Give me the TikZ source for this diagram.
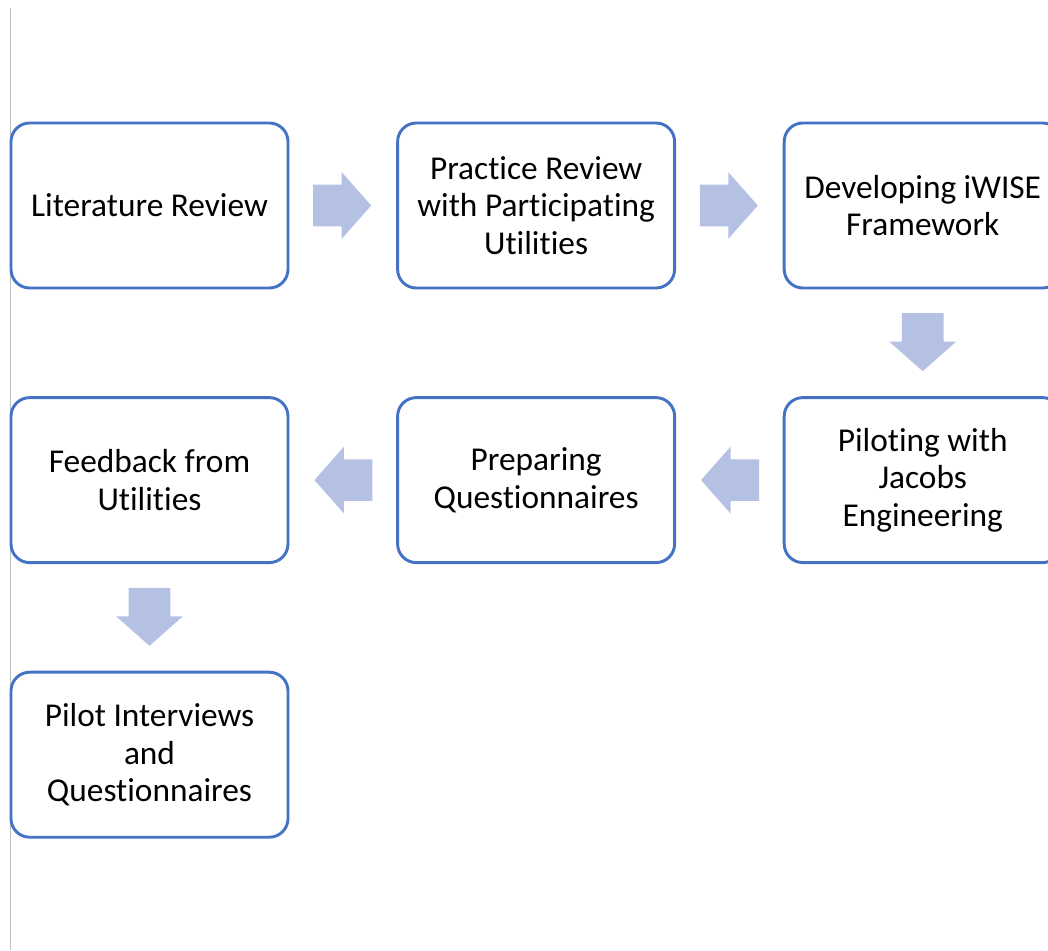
\documentclass[tikz,border=0pt]{standalone}
\usepackage{fontspec}
\setmainfont[Ligatures=NoCommon]{Carlito}
\usetikzlibrary{positioning,shapes.arrows}
\definecolor{boxblue}{RGB}{68,114,196}
\definecolor{arrowblue}{RGB}{180,193,227}

\begin{document}
\begin{tikzpicture}[x=0.75pt, y=-0.75pt, node distance={80pt},
  main/.style = {draw=boxblue, line width=2.2pt, rounded corners=14pt, fill=white,
    minimum width=207.75pt, minimum height=123.75pt, align=center,
    font=\fontsize{25}{28}\selectfont},
  flow/.style = {single arrow, fill=arrowblue, draw=none, inner xsep=0pt,
    inner ysep=15.4pt, minimum height=43.5pt, single arrow head extend=9.4pt,
    single arrow tip angle=97, sloped, allow upside down, pos=0.22, anchor=tail}]
\useasboundingbox (0,0) rectangle (1048,950);
\clip (0,0) rectangle (1048,950);
\draw[black!25, line width=1pt] (10.5,8) -- (10.5,950);
\node[main] (lit) at (149.5,205.5) {Literature Review};
\node[main] (prac) [right=of lit] {Practice Review\\with Participating\\Utilities};
\node[main] (dev) [right=of prac] {Developing iWISE\\Framework};
\node[main] (pilot) [below=of dev] {Piloting with\\Jacobs\\Engineering};
\node[main] (prep) [left=of pilot] {Preparing\\Questionnaires};
\node[main] (feed) [left=of prep] {Feedback from\\Utilities};
\node[main] (intv) [below=of feed] {Pilot Interviews\\and\\Questionnaires};
\path (lit) -- node[flow] {} (prac);
\path (prac) -- node[flow] {} (dev);
\path (dev) -- node[flow] {} (pilot);
\path (pilot) -- node[flow] {} (prep);
\path (prep) -- node[flow] {} (feed);
\path (feed) -- node[flow] {} (intv);
\end{tikzpicture}
\end{document}
